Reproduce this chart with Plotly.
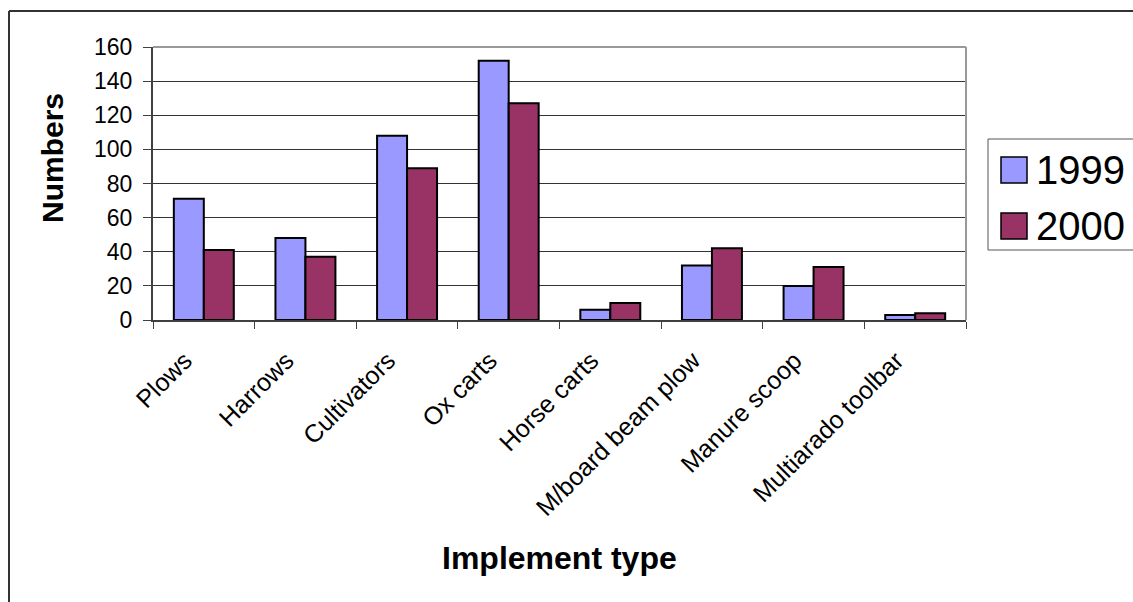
import plotly.graph_objects as go

# Implement counts by type, two survey years
implements = ["Plows", "Harrows", "Cultivators", "Ox carts", "Horse carts",
              "M/board beam plow", "Manure scoop", "Multiarado toolbar"]
years = ["1999", "2000"]
counts_1999 = [71, 48, 108, 152, 6, 32, 20, 3]
counts_2000 = [41, 37, 89, 127, 10, 42, 31, 4]
y_ticks = [0, 20, 40, 60, 80, 100, 120, 140, 160]

colors = ["#9999FF", "#993366"]
FONT = "Arial, Liberation Sans, sans-serif"

W, H = 1133, 602
L, R, T, B = 153, 167, 47, 282
PW, PH = W - L - R, H - T - B


def px_x(x):
    return (x - L) / PW


def px_y(y):
    return (H - B - y) / PH


fig = go.Figure()
for name, vals, col in zip(years, [counts_1999, counts_2000], colors):
    fig.add_trace(go.Bar(
        x=implements, y=vals, name=name,
        marker=dict(color=col, line=dict(color="black", width=2)),
        showlegend=False,
    ))

shapes = [
    # plot-area frame (top and right edges)
    dict(type="line", xref="paper", yref="paper", x0=0, x1=1, y0=1, y1=1,
         line=dict(color="#999999", width=2)),
    dict(type="line", xref="paper", yref="paper", x0=1, x1=1, y0=0, y1=1,
         line=dict(color="#999999", width=2)),
    # chart border
    dict(type="line", xref="paper", yref="paper", x0=px_x(9), x1=px_x(1140),
         y0=px_y(11), y1=px_y(11), line=dict(color="#333333", width=2)),
    dict(type="line", xref="paper", yref="paper", x0=px_x(9), x1=px_x(9),
         y0=px_y(11), y1=px_y(610), line=dict(color="#333333", width=2)),
    # legend box
    dict(type="rect", xref="paper", yref="paper", x0=px_x(988), x1=px_x(1145),
         y0=px_y(250), y1=px_y(139), line=dict(color="#555555", width=1),
         fillcolor="white"),
]

annotations = [
    dict(text="<b>Numbers</b>", xref="paper", yref="paper", x=px_x(52), y=px_y(158),
         textangle=-90, showarrow=False, xanchor="center", yanchor="middle",
         font=dict(family=FONT, size=30, color="black")),
    dict(text="<b>Implement type</b>", xref="paper", yref="paper", x=px_x(559), y=px_y(558),
         showarrow=False, xanchor="center", yanchor="middle",
         font=dict(family=FONT, size=32, color="black")),
]

# legend entries
leg_rows = [170, 226]
for name, col, yc in zip(years, colors, leg_rows):
    shapes.append(dict(type="rect", xref="paper", yref="paper",
                       x0=px_x(1001), x1=px_x(1027), y0=px_y(yc + 13), y1=px_y(yc - 13),
                       line=dict(color="black", width=1.5), fillcolor=col))
    annotations.append(dict(text=name, xref="paper", yref="paper", x=px_x(1034), y=px_y(yc),
                            showarrow=False, xanchor="left", yanchor="middle",
                            font=dict(family=FONT, size=40, color="black")))

fig.update_layout(
    width=W, height=H,
    margin=dict(l=L, r=R, t=T, b=B, pad=0),
    paper_bgcolor="white", plot_bgcolor="white",
    barmode="group", bargap=0.41, bargroupgap=0,
    font=dict(family=FONT, color="black"),
    shapes=shapes, annotations=annotations,
    showlegend=False,
)
fig.update_xaxes(
    type="category", tickangle=-45, tickson="boundaries",
    ticks="outside", ticklen=7, tickcolor="#404040", tickwidth=1,
    showline=True, linecolor="#404040", linewidth=2,
    ticklabelstandoff=14, ticklabelshift=-19,
    showgrid=False, tickfont=dict(family=FONT, size=25, color="black"),
)
fig.update_yaxes(
    range=[0, 160], tickvals=y_ticks,
    ticks="outside", ticklen=8, tickcolor="#404040", tickwidth=1,
    showline=True, linecolor="#404040", linewidth=2,
    ticklabelstandoff=6,
    showgrid=True, gridcolor="#333333", gridwidth=1, zeroline=False,
    tickfont=dict(family=FONT, size=23, color="black"),
)

fig.write_html("out.html")
